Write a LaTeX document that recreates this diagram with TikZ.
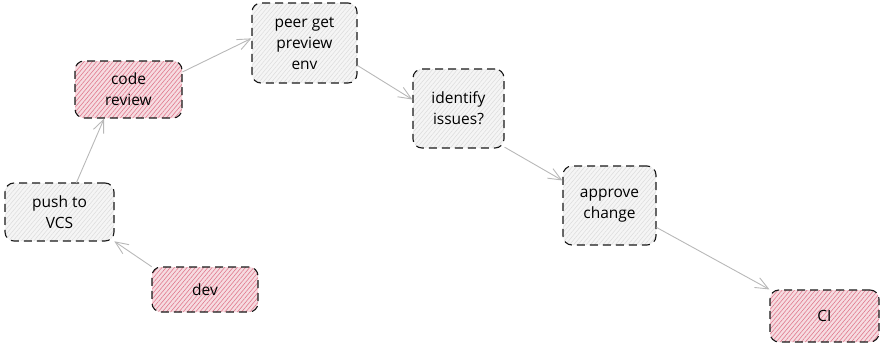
\documentclass[tikz,border=0pt]{standalone}
\usepackage{fontspec}
\setmainfont{Open Sans}
\usetikzlibrary{arrows.meta,patterns.meta}
\definecolor{redbase}{HTML}{F6DCE1}
\definecolor{redhatch}{HTML}{E07A8E}
\definecolor{graybase}{HTML}{F5F5F5}
\definecolor{grayhatch}{HTML}{DCDCDC}
\definecolor{linkgray}{HTML}{B8B8B8}
\tikzset{
  box/.style={draw=black!90, line width=1.1pt, dash pattern=on 8pt off 5pt,
    rounded corners=9pt, align=center, inner sep=0pt,
    font=\fontsize{15.5}{21}\selectfont, text=black},
  redbox/.style={box, preaction={fill=redbase},
    pattern={Lines[angle=50,distance=3.2pt,line width=0.6pt]}, pattern color=redhatch},
  graybox/.style={box, preaction={fill=graybase},
    pattern={Lines[angle=50,distance=3.2pt,line width=0.5pt]}, pattern color=grayhatch},
  link/.style={draw=linkgray, line width=0.9pt,
    -{Straight Barb[length=13pt,width=11pt,line width=0.9pt]}}
}
\begin{document}
\begin{tikzpicture}[x=1pt,y=-1pt]
  \useasboundingbox (0,0) rectangle (881,346);
  % process steps
  \node[redbox,  minimum width=106pt, minimum height=45pt] (dev)      at (205,289.5) {dev};
  \node[graybox, minimum width=109pt, minimum height=58pt] (push)     at (59.5,212)  {push to\\VCS};
  \node[redbox,  minimum width=107pt, minimum height=57pt] (review)   at (128.5,89.5) {code\\review};
  \node[graybox, minimum width=105pt, minimum height=80pt] (peer)     at (304.5,43)  {peer get\\preview\\env};
  \node[graybox, minimum width=91pt,  minimum height=79pt] (identify) at (458.5,108.5) {identify\\issues?};
  \node[graybox, minimum width=93pt,  minimum height=79pt] (approve)  at (609.5,205.5) {approve\\change};
  \node[redbox,  minimum width=109pt, minimum height=52pt] (ci)       at (824.5,316) {CI};
  % flow between steps
  \draw[link] (dev.north west) -- (push.south east);
  \draw[link] (push.60) -- (review.230);
  \draw[link] (review.18) -- (peer.175);
  \draw[link] (peer.-23) -- (identify.169);
  \draw[link] (identify.-40) -- (approve.152);
  \draw[link] (approve.-25) -- (ci.north west);
\end{tikzpicture}
\end{document}
